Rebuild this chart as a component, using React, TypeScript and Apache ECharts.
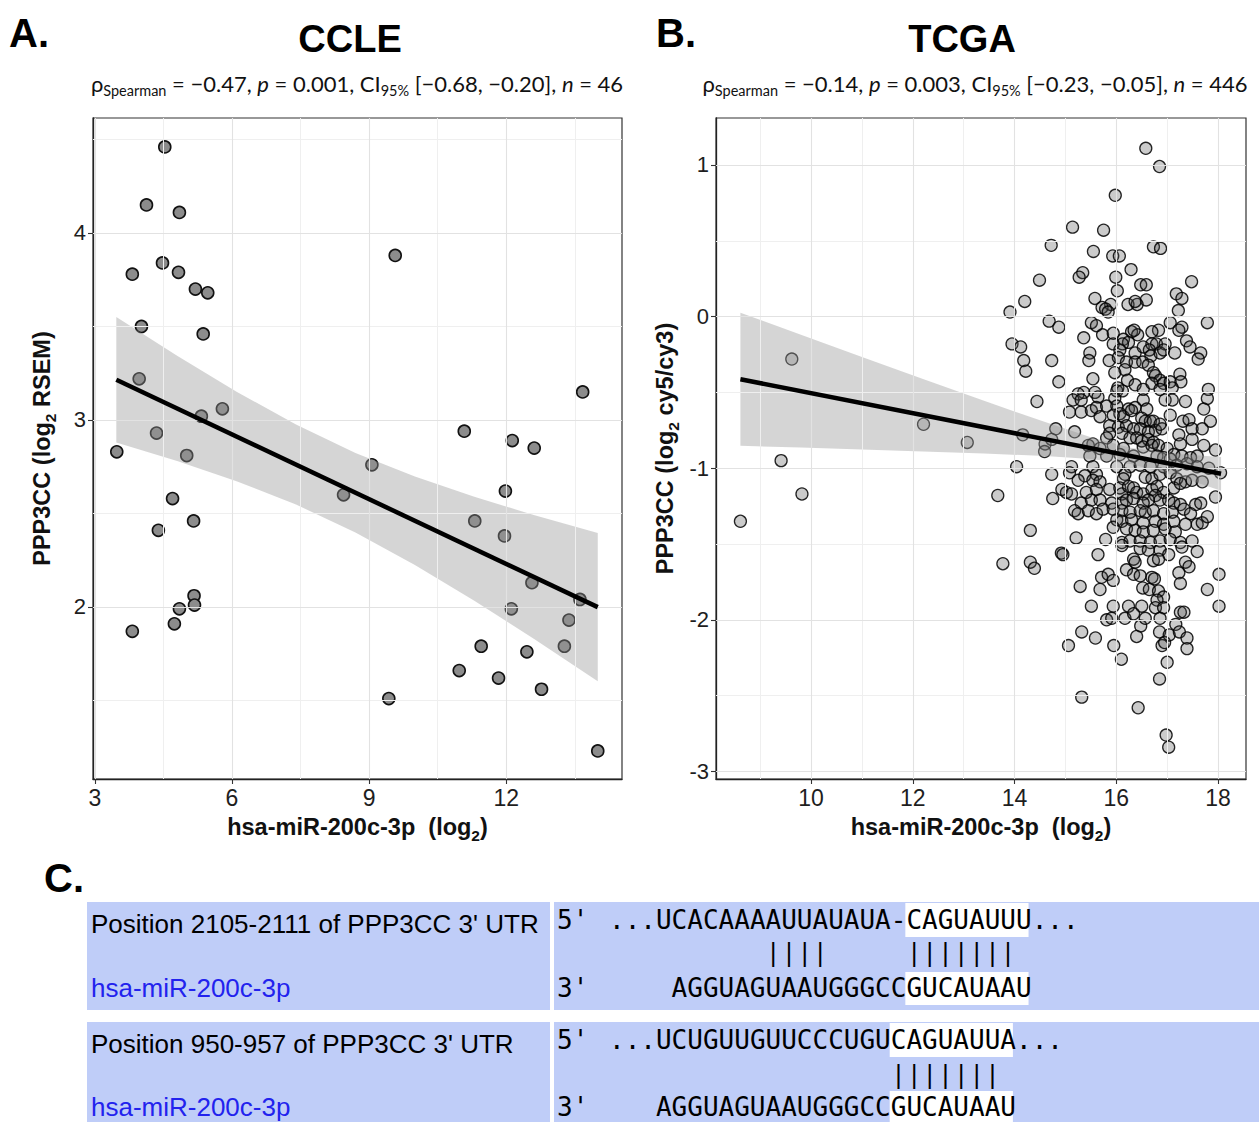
import React, { useEffect, useRef } from "react";
import * as echarts from "echarts";

// ---------- Panel A (CCLE) ----------
const ccleMiR = [4.53, 4.13, 4.85, 9.57, 3.82, 4.48, 4.83, 5.2, 5.47, 4.02, 5.37, 3.97, 5.79, 5.33, 4.35, 13.67, 11.08, 12.13, 12.61, 3.48, 5.01, 9.06, 8.44, 4.7, 11.98, 5.16, 4.39, 11.31, 11.96, 12.56, 13.61, 5.17, 5.18, 4.85, 12.11, 13.37, 4.74, 3.82, 11.45, 13.27, 12.45, 10.97, 11.83, 12.77, 9.43, 14.0];
const ccleExpr = [4.46, 4.15, 4.11, 3.88, 3.78, 3.84, 3.79, 3.7, 3.68, 3.5, 3.46, 3.22, 3.06, 3.02, 2.93, 3.15, 2.94, 2.89, 2.85, 2.83, 2.81, 2.76, 2.6, 2.58, 2.62, 2.46, 2.41, 2.46, 2.38, 2.13, 2.04, 2.06, 2.01, 1.99, 1.99, 1.93, 1.91, 1.87, 1.79, 1.79, 1.76, 1.66, 1.62, 1.56, 1.51, 1.23];
const ccleFit: [number, number][] = [[3.47, 3.215], [14.0, 1.999]];
const ccleBandX = [3.47, 4.8, 6.1, 7.4, 8.7, 10.0, 11.3, 12.6, 14.0];
const ccleBandLo = [2.879, 2.781, 2.673, 2.548, 2.398, 2.224, 2.033, 1.83, 1.603];
const ccleBandHi = [3.551, 3.343, 3.151, 2.976, 2.824, 2.698, 2.589, 2.492, 2.395];
const ccleXTicks = [3, 6, 9, 12];
const ccleXMinor = [4.5, 7.5, 10.5, 13.5];
const ccleYTicks = [2, 3, 4];
const ccleYMinor = [1.5, 2.5, 3.5, 4.5];

// ---------- Panel B (TCGA) ----------
const tcgaPoints: [number, number][] = [
  [16.58, 1.11], [16.85, 0.99], [15.98, 0.8], [15.14, 0.59], [15.75, 0.57], [14.72, 0.47], [16.73, 0.46], [16.87, 0.45], [15.55, 0.43], [15.93, 0.4], [16.06, 0.4], [16.29, 0.31], [15.34, 0.29], [15.27, 0.26], [15.99, 0.26], [14.49, 0.24], [17.48, 0.23], [16.48, 0.21], [16.59, 0.21], [16.02, 0.17], [17.18, 0.15], [17.29, 0.12], [15.58, 0.12], [16.59, 0.11], [14.2, 0.1], [16.23, 0.08], [16.41, 0.08], [16.37, 0.1], [15.89, 0.08], [15.72, 0.06], [15.79, 0.05], [15.84, 0.03], [17.22, 0.04], [13.91, 0.03],
  [14.68, -0.03], [14.87, -0.07], [13.95, -0.18], [14.12, -0.2], [14.18, -0.29], [14.73, -0.29], [9.62, -0.28], [14.22, -0.36], [14.87, -0.43], [14.44, -0.56], [12.21, -0.71], [14.81, -0.74], [14.16, -0.78], [13.07, -0.83], [14.6, -0.84], [14.59, -0.89], [14.73, -0.81],
  [8.61, -1.35], [9.41, -0.95], [9.82, -1.17], [14.04, -0.99], [13.67, -1.18], [14.31, -1.41], [13.77, -1.63], [14.31, -1.62], [14.39, -1.66], [14.92, -1.56], [14.73, -1.04], [14.75, -1.2], [14.93, -1.14],
  [15.32, -2.08], [15.06, -2.17], [15.32, -2.51], [15.59, -2.12], [15.95, -2.17], [16.1, -2.26], [16.4, -2.11], [16.48, -2.04], [16.43, -2.58], [16.85, -2.08], [16.9, -2.17], [16.95, -2.15], [17.04, -2.1], [17.17, -2.03], [17.24, -2.08], [17.39, -2.12], [17.39, -2.19], [17.0, -2.28], [16.85, -2.39], [16.98, -2.76], [17.03, -2.84],
  [15.51, -0.04], [15.61, -0.06], [17.06, -0.04], [17.29, -0.07], [17.23, -0.09], [17.79, -0.04], [16.83, -0.09], [16.7, -0.1], [16.3, -0.1], [16.42, -0.12], [16.35, -0.09], [15.36, -0.14], [15.73, -0.12], [15.94, -0.11], [16.14, -0.15], [16.24, -0.17], [16.12, -0.18], [15.94, -0.18], [16.07, -0.22], [16.37, -0.24], [16.53, -0.2], [16.7, -0.18], [16.79, -0.18], [16.65, -0.22], [16.68, -0.26], [16.96, -0.18], [16.86, -0.24], [16.93, -0.22], [17.15, -0.24], [17.38, -0.16], [17.45, -0.2], [17.66, -0.24], [17.61, -0.28], [15.48, -0.24], [15.46, -0.29], [15.86, -0.29], [16.04, -0.27], [16.2, -0.3], [16.17, -0.35], [15.97, -0.37], [16.37, -0.3], [16.52, -0.3], [16.63, -0.32], [16.73, -0.37], [16.77, -0.39], [16.86, -0.42], [16.93, -0.44], [17.06, -0.43], [17.25, -0.38], [17.27, -0.43], [17.1, -0.47], [15.54, -0.41], [16.03, -0.47], [16.22, -0.42], [16.37, -0.45], [16.53, -0.48], [16.7, -0.44], [16.86, -0.48], [16.01, -0.49], [16.12, -0.49], [15.36, -0.5], [15.58, -0.5], [15.25, -0.51], [17.81, -0.48],
  [15.15, -0.55], [15.31, -0.55], [15.64, -0.53], [15.97, -0.54], [16.53, -0.55], [16.96, -0.55], [17.1, -0.55], [17.36, -0.56], [17.79, -0.54], [15.08, -0.63], [15.31, -0.63], [15.51, -0.62], [15.61, -0.6], [15.81, -0.59], [16.01, -0.59], [16.24, -0.61], [16.37, -0.6], [16.6, -0.61], [16.07, -0.64], [16.14, -0.66], [16.3, -0.62], [15.68, -0.66], [15.94, -0.65], [16.5, -0.67], [16.57, -0.69], [16.67, -0.69], [16.73, -0.69], [17.06, -0.65], [17.31, -0.69], [17.43, -0.68], [17.72, -0.61], [17.85, -0.69], [15.87, -0.72], [16.04, -0.73], [16.2, -0.72], [16.34, -0.74], [16.47, -0.74], [16.63, -0.76], [16.77, -0.75], [16.9, -0.74], [16.86, -0.71], [15.18, -0.76], [15.87, -0.77], [15.81, -0.8], [16.11, -0.77], [16.27, -0.8], [16.4, -0.8], [16.5, -0.82], [16.63, -0.81], [16.73, -0.83], [17.23, -0.78], [17.49, -0.74], [17.69, -0.74], [17.49, -0.81], [17.26, -0.84], [17.72, -0.85], [17.95, -0.88], [15.54, -0.84], [15.45, -0.85], [15.94, -0.85], [16.14, -0.87], [15.68, -0.87], [16.53, -0.86], [16.7, -0.85], [16.83, -0.85], [17.0, -0.87], [17.13, -0.91], [17.29, -0.92], [17.46, -0.93], [17.59, -0.92], [15.48, -0.92], [15.81, -0.92], [16.07, -0.91], [16.34, -0.92], [16.8, -0.92], [16.93, -0.93], [17.06, -0.94], [15.12, -0.99], [15.54, -0.99], [16.01, -0.99], [16.27, -0.99], [16.47, -0.98], [16.67, -0.99], [16.93, -0.99], [17.19, -0.98], [17.39, -0.97], [17.59, -0.99], [17.82, -1.0],
  [15.08, -1.03], [15.38, -1.05], [15.25, -1.08], [15.61, -1.04], [15.54, -1.08], [15.68, -1.09], [16.17, -1.04], [16.14, -1.07], [16.57, -1.06], [16.7, -1.07], [16.86, -1.04], [17.06, -1.03], [17.19, -1.07], [17.36, -1.09], [17.49, -1.08], [17.69, -1.09], [18.05, -1.03], [15.02, -1.16], [15.12, -1.17], [15.41, -1.16], [15.61, -1.14], [15.87, -1.14], [16.07, -1.13], [16.11, -1.17], [16.24, -1.12], [16.34, -1.13], [16.4, -1.16], [16.53, -1.17], [16.7, -1.14], [16.8, -1.12], [16.93, -1.16], [17.13, -1.13], [17.26, -1.1], [16.77, -1.18], [16.63, -1.21], [16.86, -1.21], [17.03, -1.21], [17.13, -1.23], [17.26, -1.24], [17.56, -1.24], [17.66, -1.23], [17.95, -1.19], [15.31, -1.23], [15.51, -1.21], [15.68, -1.21], [15.91, -1.23], [16.11, -1.23], [16.2, -1.21], [16.34, -1.2], [16.53, -1.23], [15.18, -1.28], [15.25, -1.3], [15.45, -1.28], [15.61, -1.3], [15.74, -1.27], [15.94, -1.27], [16.11, -1.28], [16.27, -1.29], [16.47, -1.28], [16.57, -1.29], [16.73, -1.28], [16.93, -1.3], [17.1, -1.29], [17.33, -1.27], [17.46, -1.3], [16.01, -1.34], [16.11, -1.35], [16.3, -1.34], [16.53, -1.36], [16.77, -1.35], [16.93, -1.37], [17.13, -1.35], [17.36, -1.37], [17.59, -1.37], [17.69, -1.36], [17.79, -1.32], [15.94, -1.39], [16.2, -1.4], [16.37, -1.41], [16.53, -1.42], [16.73, -1.41], [16.96, -1.4], [17.16, -1.42], [15.21, -1.46], [15.79, -1.47], [16.11, -1.49], [16.27, -1.48], [16.47, -1.48], [16.67, -1.49], [16.86, -1.48], [17.06, -1.47], [17.26, -1.49], [17.49, -1.48],
  [14.95, -1.57], [15.64, -1.57], [16.11, -1.51], [16.47, -1.53], [16.63, -1.54], [16.86, -1.54], [17.03, -1.57], [17.29, -1.52], [17.59, -1.55], [16.34, -1.6], [16.37, -1.62], [16.73, -1.61], [16.83, -1.6], [17.36, -1.62], [17.43, -1.65], [17.23, -1.69], [18.02, -1.7], [15.71, -1.72], [15.84, -1.7], [15.94, -1.74], [16.2, -1.67], [16.34, -1.7], [16.47, -1.71], [16.7, -1.72], [16.75, -1.73], [17.26, -1.76], [17.79, -1.8], [15.29, -1.78], [15.68, -1.8], [16.52, -1.79], [16.65, -1.8], [16.83, -1.81], [16.93, -1.85], [16.8, -1.87], [16.77, -1.92], [15.51, -1.91], [15.94, -1.91], [16.24, -1.91], [16.5, -1.91], [16.93, -1.92], [17.26, -1.95], [17.33, -1.95], [18.02, -1.91], [15.81, -2.0], [15.91, -1.99], [16.17, -1.99], [16.34, -1.96], [16.57, -1.99], [16.86, -1.99]
];
const tcgaFit: [number, number][] = [[8.61, -0.413], [18.06, -1.037]];
const tcgaBandX = [8.61, 9.8, 11.0, 12.2, 13.4, 14.6, 15.5, 16.3, 17.2, 18.06];
const tcgaBandLo = [-0.852, -0.864, -0.876, -0.889, -0.903, -0.92, -0.94, -0.974, -1.052, -1.148];
const tcgaBandHi = [0.026, -0.12, -0.266, -0.411, -0.555, -0.696, -0.796, -0.866, -0.907, -0.926];
const tcgaXTicks = [10, 12, 14, 16, 18];
const tcgaXMinor = [9, 11, 13, 15, 17];
const tcgaYTicks = [-3, -2, -1, 0, 1];
const tcgaYMinor = [-2.5, -1.5, -0.5, 0.5];

// ---------- Panel C (alignment) ----------
const siteLabels = ["Position 2105-2111 of PPP3CC 3' UTR", "Position 950-957 of PPP3CC 3' UTR"];
const mirnaName = "hsa-miR-200c-3p";
const utrRows = ["...UCACAAAAUUAUAUA-CAGUAUUU...", "...UCUGUUGUUCCCUGUCAGUAUUA..."];
const mirRow = "AGGUAGUAAUGGGCCGUCAUAAU";
// column layout (character columns in the alignment)
const utrSeedCol = [19, 18];
const mirStartCol = [4, 3];
const pairCols = [[10, 11, 12, 13, 19, 20, 21, 22, 23, 24, 25], [18, 19, 20, 21, 22, 23, 24]];

const SANS = "'Liberation Sans', Arial, Helvetica, sans-serif";
const MONO = "'DejaVu Sans Mono', 'Liberation Mono', monospace";
const SUBF = "Lato, 'Open Sans', sans-serif";

function gridMarks(xMaj: number[], xMin: number[], yMaj: number[], yMin: number[]) {
  const major = { color: "#e2e2e2", width: 1.1, type: "solid" };
  const minor = { color: "#efefef", width: 1, type: "solid" };
  return [
    ...xMin.map((v) => ({ xAxis: v, lineStyle: minor })),
    ...yMin.map((v) => ({ yAxis: v, lineStyle: minor })),
    ...xMaj.map((v) => ({ xAxis: v, lineStyle: major })),
    ...yMaj.map((v) => ({ yAxis: v, lineStyle: major })),
  ];
}

const nameRich = {
  b: { fontSize: 23.5, fontWeight: "bold", fontFamily: SANS, color: "#111", lineHeight: 32 },
  s: { fontSize: 15.5, fontWeight: "bold", fontFamily: SANS, color: "#111", lineHeight: 32, verticalAlign: "bottom" },
};

function xAxisOf(gi: number, min: number, max: number, ticks: number[], name: string) {
  return {
    type: "value", gridIndex: gi, min, max,
    splitLine: { show: false },
    axisLine: { show: true, onZero: false, lineStyle: { color: "#222", width: 1.3 } },
    axisTick: { show: true, customValues: ticks, length: 5, lineStyle: { color: "#333", width: 1.1 } },
    axisLabel: { customValues: ticks, fontSize: 23, color: "#1e1e1e", fontFamily: SANS, margin: 7 },
    name, nameLocation: "middle", nameGap: 32, nameTextStyle: { rich: nameRich },
  };
}
function yAxisOf(gi: number, min: number, max: number, ticks: number[], name: string) {
  return {
    type: "value", gridIndex: gi, min, max,
    splitLine: { show: false },
    axisLine: { show: true, onZero: false, lineStyle: { color: "#222", width: 1.3 } },
    axisTick: { show: true, customValues: ticks, length: 5, lineStyle: { color: "#333", width: 1.1 } },
    axisLabel: { customValues: ticks, fontSize: 22, color: "#1e1e1e", fontFamily: SANS, margin: 7 },
    name, nameLocation: "middle", nameGap: 35, nameTextStyle: { rich: nameRich },
  };
}

function gridSeries(idx: number, marks: any[]) {
  return {
    type: "scatter", xAxisIndex: idx, yAxisIndex: idx, data: [], z: 1, silent: true,
    markLine: { silent: true, symbol: "none", label: { show: false }, emphasis: { disabled: true }, animation: false, data: marks },
  };
}
function bandSeries(idx: number, bx: number[], lo: number[], hi: number[]) {
  return {
    type: "custom", xAxisIndex: idx, yAxisIndex: idx, z: 4, silent: true,
    data: [[bx[0], lo[0]]],
    renderItem: (_p: any, api: any) => {
      const pts: number[][] = [];
      for (let i = 0; i < bx.length; i++) pts.push(api.coord([bx[i], hi[i]]));
      for (let i = bx.length - 1; i >= 0; i--) pts.push(api.coord([bx[i], lo[i]]));
      return { type: "polygon", shape: { points: pts }, style: { fill: "rgba(150,150,150,0.4)" } };
    },
  };
}
function fitSeries(idx: number, fit: [number, number][]) {
  return {
    type: "line", xAxisIndex: idx, yAxisIndex: idx, data: fit, symbol: "none", z: 5, silent: true,
    lineStyle: { color: "#000", width: 4.5 },
  };
}

function txt(text: string, x: number, y: number, o: any = {}) {
  return {
    type: "text", x, y, z: 10, silent: true,
    style: {
      text, fill: o.fill || "#000", fontSize: o.fontSize || 20, fontFamily: o.fontFamily || SANS,
      fontWeight: o.fontWeight || "normal", textAlign: o.align || "left", align: o.align || "left",
      textVerticalAlign: "middle", verticalAlign: "middle", rich: o.rich, lineHeight: o.lineHeight,
    },
  };
}
function rect(x: number, y: number, w: number, h: number, fill: string) {
  return { type: "rect", z: 5, silent: true, shape: { x, y, width: w, height: h }, style: { fill } };
}

const subRich = {
  s: { fontSize: 14.5, fontFamily: SUBF, fill: "#111", lineHeight: 30, verticalAlign: "bottom" },
  i: { fontSize: 22, fontFamily: SUBF, fill: "#111", lineHeight: 30, fontStyle: "italic" },
};

function buildGraphics() {
  const g: any[] = [];
  g.push(txt("A.", 9, 33, { fontSize: 40, fontWeight: "bold" }));
  g.push(txt("CCLE", 350, 39, { fontSize: 38, fontWeight: "bold", align: "center" }));
  g.push(txt("ρ{s|Spearman} = −0.47, {i|p} = 0.001, CI{s|95%} [−0.68, −0.20], {i|n} = 46", 357, 83,
    { fontSize: 22, fontFamily: SUBF, align: "center", rich: subRich, lineHeight: 30, fill: "#111" }));
  g.push(txt("B.", 656, 33, { fontSize: 40, fontWeight: "bold" }));
  g.push(txt("TCGA", 962, 39, { fontSize: 38, fontWeight: "bold", align: "center" }));
  g.push(txt("ρ{s|Spearman} = −0.14, {i|p} = 0.003, CI{s|95%} [−0.23, −0.05], {i|n} = 446", 975, 83,
    { fontSize: 22, fontFamily: SUBF, align: "center", rich: subRich, lineHeight: 30, fill: "#111" }));

  // Panel C
  g.push(txt("C.", 44, 878, { fontSize: 40, fontWeight: "bold" }));
  const blue = "#bfcdf8";
  const x0 = 609;
  const cw = 15.65;
  const blocks = [
    { top: 902, h: 108, r1: 920, r2: 953, r3: 988 },
    { top: 1022, h: 100, r1: 1040, r2: 1075, r3: 1107 },
  ];
  blocks.forEach((b, k) => {
    g.push(rect(87, b.top, 463, b.h, blue));
    g.push(rect(554, b.top, 705, b.h, blue));
    const sx = x0 + utrSeedCol[k] * cw;
    g.push(rect(sx - 1, b.r1 - 17, 8 * cw - 2, 34, "#ffffff"));
    const mx = x0 + (mirStartCol[k] + 15) * cw;
    g.push(rect(mx - 1, b.r3 - 16, 8 * cw - 2, 33, "#ffffff"));
    g.push(txt(siteLabels[k], 91, b.r1 + 4, { fontSize: 26 }));
    g.push(txt(mirnaName, 91, b.r3, { fontSize: 26, fill: "#2222ee" }));
    g.push(txt("5'", 557, b.r1, { fontSize: 26, fontFamily: MONO }));
    g.push(txt("3'", 557, b.r3, { fontSize: 26, fontFamily: MONO }));
    g.push(txt(utrRows[k], x0, b.r1, { fontSize: 26, fontFamily: MONO }));
    g.push(txt(mirRow, x0 + mirStartCol[k] * cw, b.r3, { fontSize: 26, fontFamily: MONO }));
    pairCols[k].forEach((c) => g.push(txt("|", x0 + (c + 0.5) * cw, b.r2, { fontSize: 24, fontFamily: MONO, align: "center" })));
  });
  return g;
}

export default function App() {
  const ref = useRef<HTMLDivElement>(null);
  useEffect(() => {
    if (!ref.current) return;
    const chart = echarts.init(ref.current, null, { renderer: "svg" });
    const option: any = {
      animation: false,
      backgroundColor: "#ffffff",
      grid: [
        { left: 93, top: 118, width: 529, height: 661, show: true, borderColor: "#333", borderWidth: 1.2, backgroundColor: "transparent" },
        { left: 716, top: 118, width: 530, height: 661, show: true, borderColor: "#333", borderWidth: 1.2, backgroundColor: "transparent" },
      ],
      xAxis: [
        xAxisOf(0, 2.96, 14.53, ccleXTicks, "{b|hsa-miR-200c-3p  (log}{s|2}{b|)}"),
        xAxisOf(1, 8.13, 18.55, tcgaXTicks, "{b|hsa-miR-200c-3p  (log}{s|2}{b|)}"),
      ],
      yAxis: [
        yAxisOf(0, 1.08, 4.615, ccleYTicks, "{b|PPP3CC (log}{s|2}{b| RSEM)}"),
        yAxisOf(1, -3.05, 1.31, tcgaYTicks, "{b|PPP3CC (log}{s|2}{b| cy5/cy3)}"),
      ],
      series: [
        gridSeries(0, gridMarks(ccleXTicks, ccleXMinor, ccleYTicks, ccleYMinor)),
        gridSeries(1, gridMarks(tcgaXTicks, tcgaXMinor, tcgaYTicks, tcgaYMinor)),
        {
          type: "scatter", xAxisIndex: 0, yAxisIndex: 0, z: 3, silent: true,
          data: ccleMiR.map((x, i) => [x, ccleExpr[i]]), symbolSize: 12,
          itemStyle: { color: "#8c8c8c", borderColor: "#111", borderWidth: 1.6, opacity: 1 },
        },
        {
          type: "scatter", xAxisIndex: 1, yAxisIndex: 1, z: 3, silent: true,
          data: tcgaPoints, symbolSize: 12,
          itemStyle: { color: "rgba(70,70,70,0.28)", borderColor: "rgba(0,0,0,0.85)", borderWidth: 1.3, opacity: 1 },
        },
        bandSeries(0, ccleBandX, ccleBandLo, ccleBandHi),
        bandSeries(1, tcgaBandX, tcgaBandLo, tcgaBandHi),
        fitSeries(0, ccleFit),
        fitSeries(1, tcgaFit),
      ],
      graphic: { elements: buildGraphics() },
    };
    chart.setOption(option);
    return () => chart.dispose();
  }, []);
  return <div ref={ref} style={{ position: "absolute", left: 0, top: 0, width: 1259, height: 1122 }} />;
}
